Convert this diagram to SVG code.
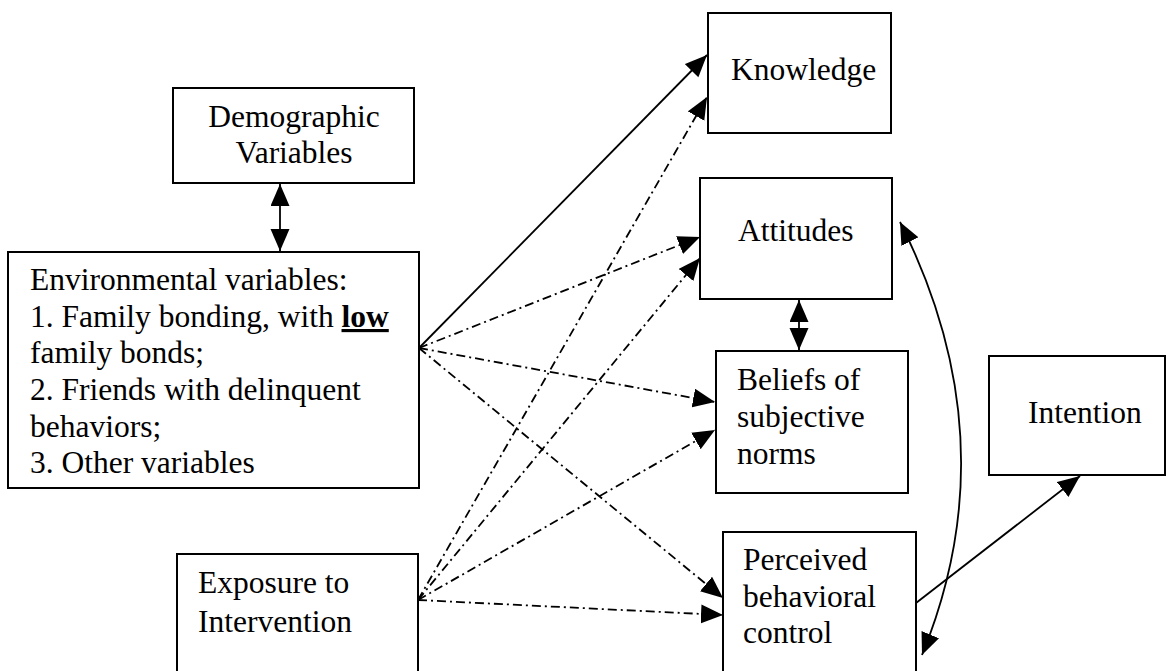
<svg xmlns="http://www.w3.org/2000/svg" width="1169" height="671" viewBox="0 0 1169 671">
  <defs>
    <style>
      .box { fill: #fff; stroke: #000; stroke-width: 2; }
      .lbl { font-family: "Liberation Serif", "Times New Roman", serif; font-size: 31.5px; fill: #000; }
      .mid { text-anchor: middle; }
      .solid { fill: none; stroke: #000; stroke-width: 1.8; }
      .dashdot { fill: none; stroke: #000; stroke-width: 1.8; stroke-dasharray: 9 4 2 4; }
      .low { font-weight: bold; text-decoration: underline; }
    </style>
    <marker id="head" markerUnits="userSpaceOnUse" markerWidth="24" markerHeight="20" refX="22" refY="9.5" orient="auto-start-reverse" viewBox="0 0 24 20">
      <path d="M0,0 L22,9.5 L0,19 z" fill="#000"/>
    </marker>
  </defs>

  <rect width="1169" height="671" fill="#fff"/>

  <!-- connectors -->
  <g id="connectors">
    <line class="solid" x1="280" y1="184" x2="280" y2="251" marker-start="url(#head)" marker-end="url(#head)"/>
    <line class="solid" x1="799" y1="300" x2="799" y2="350" marker-start="url(#head)" marker-end="url(#head)"/>
    <line class="solid" x1="419" y1="348" x2="707" y2="55" marker-end="url(#head)"/>
    <line class="dashdot" x1="418" y1="600" x2="707" y2="97" marker-end="url(#head)"/>
    <line class="dashdot" x1="419" y1="348" x2="700" y2="237" marker-end="url(#head)"/>
    <line class="dashdot" x1="418" y1="600" x2="700" y2="258" marker-end="url(#head)"/>
    <line class="dashdot" x1="419" y1="348" x2="715" y2="402" marker-end="url(#head)"/>
    <line class="dashdot" x1="418" y1="600" x2="715" y2="430" marker-end="url(#head)"/>
    <line class="dashdot" x1="419" y1="348" x2="723" y2="598" marker-end="url(#head)"/>
    <line class="dashdot" x1="418" y1="600" x2="723" y2="615" marker-end="url(#head)"/>
    <line class="solid" x1="916" y1="603" x2="1080" y2="476" marker-end="url(#head)"/>
    <path class="solid" d="M900,222 Q1010,440 922,655" marker-start="url(#head)" marker-end="url(#head)"/>
  </g>

  <g id="demographic">
    <rect class="box" x="173" y="88" width="241" height="95"/>
    <text class="lbl mid" x="294" y="127">Demographic</text>
    <text class="lbl mid" x="294" y="163">Variables</text>
  </g>

  <g id="environmental">
    <rect class="box" x="8" y="252" width="411" height="236"/>
    <text class="lbl" x="30" y="290">Environmental variables:</text>
    <text class="lbl" x="30" y="327">1. Family bonding, with <tspan class="low">low</tspan></text>
    <text class="lbl" x="30" y="363">family bonds;</text>
    <text class="lbl" x="30" y="400">2. Friends with delinquent</text>
    <text class="lbl" x="30" y="437">behaviors;</text>
    <text class="lbl" x="30" y="473">3. Other variables</text>
  </g>

  <g id="exposure">
    <rect class="box" x="177" y="554" width="241" height="130"/>
    <text class="lbl" x="198" y="593">Exposure to</text>
    <text class="lbl" x="198" y="632">Intervention</text>
  </g>

  <g id="knowledge">
    <rect class="box" x="708" y="13" width="183" height="120"/>
    <text class="lbl" x="731" y="80">Knowledge</text>
  </g>

  <g id="attitudes">
    <rect class="box" x="700" y="178" width="192" height="121"/>
    <text class="lbl" x="738" y="241">Attitudes</text>
  </g>

  <g id="beliefs">
    <rect class="box" x="716" y="351" width="192" height="142"/>
    <text class="lbl" x="737" y="390">Beliefs of</text>
    <text class="lbl" x="737" y="427">subjective</text>
    <text class="lbl" x="737" y="464">norms</text>
  </g>

  <g id="perceived">
    <rect class="box" x="723" y="532" width="193" height="150"/>
    <text class="lbl" x="743" y="570">Perceived</text>
    <text class="lbl" x="743" y="607">behavioral</text>
    <text class="lbl" x="743" y="643">control</text>
  </g>

  <g id="intention">
    <rect class="box" x="989" y="356" width="176" height="119"/>
    <text class="lbl" x="1028" y="423">Intention</text>
  </g>
</svg>
